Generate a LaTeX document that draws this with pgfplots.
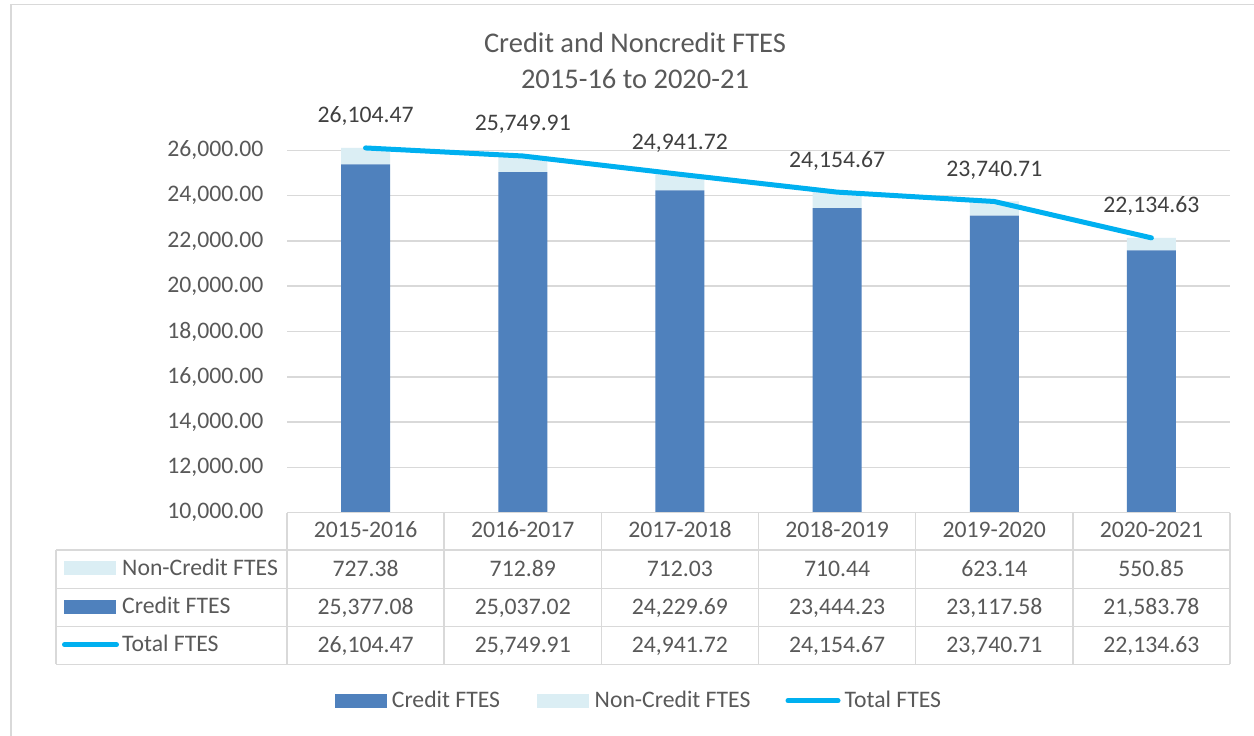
\documentclass[border=0pt]{standalone}
\usepackage{fontspec}
\setmainfont{Carlito}
\usepackage{pgfplots}
\pgfplotsset{compat=1.18}
\usepackage{pgfplotstable}
\definecolor{credit}{HTML}{4F81BD}
\definecolor{noncredit}{HTML}{DBEEF4}
\definecolor{total}{HTML}{00B0F0}
\definecolor{txt}{HTML}{595959}
\definecolor{lbl}{HTML}{404040}
\definecolor{gridc}{HTML}{D9D9D9}
\newcommand\fs{\fontsize{23.7}{28}\selectfont}
\newcommand\ft{\fontsize{28.5}{34}\selectfont}

\pgfplotstableread{
x credit noncredit total totallabel
0 25377.08 727.38 26104.47 26,104.47
1 25037.02 712.89 25749.91 25,749.91
2 24229.69 712.03 24941.72 24,941.72
3 23444.23 710.44 24154.67 24,154.67
4 23117.58 623.14 23740.71 23,740.71
5 21583.78 550.85 22134.63 22,134.63
}\data

\pgfplotsset{
  common/.style={
    at={(287pt,-512.7pt)}, anchor=south west, scale only axis,
    width=943pt, height=373.7pt,
    xmin=-0.5, xmax=5.5, ymin=10000, ymax=26500,
  }
}

\begin{document}
\begin{tikzpicture}
\useasboundingbox (0,0) rectangle (1254pt,-736pt);
\fill[white] (0,0) rectangle (1254pt,-736pt);
\draw[gridc, line width=1.5pt] (10.8pt,-736pt) -- (10.8pt,-4.3pt) -- (1254pt,-4.3pt);

% title
\node[font=\ft, text=txt, anchor=base] at (635pt,-52.5pt) {Credit and Noncredit FTES};
\node[font=\ft, text=txt, anchor=base] at (635pt,-88pt) {2015-16 to 2020-21};

\begin{axis}[common,
  ybar stacked, bar width=49pt,
  axis line style={draw=none},
  xtick=\empty, ytick={10000,12000,...,26000},
  scaled y ticks=false,
  ymajorgrids, grid style={gridc, line width=1.5pt},
  major tick length=0pt,
  /pgf/number format/fixed, /pgf/number format/fixed zerofill,
  /pgf/number format/precision=2, /pgf/number format/1000 sep={,},
  /pgf/number format/assume math mode=true,
  yticklabel style={font=\fs, text=txt, anchor=east, inner sep=0pt, xshift=-23.4pt},
]
\addplot[fill=credit, draw=none] table[x=x, y=credit]{\data};
\addplot[fill=noncredit, draw=none] table[x=x, y=noncredit]{\data};
\end{axis}

\begin{axis}[common, hide axis, clip=false]
\addplot[total, line width=5pt, line cap=round, line join=round,
  nodes near coords, point meta=explicit symbolic,
  nodes near coords style={font=\fs, text=lbl, anchor=base, yshift=25pt}]
  table[x=x, y=total, meta=totallabel]{\data};
\end{axis}

% data table grid
\begin{scope}[gridc, line width=1.5pt]
\draw (287pt,-512.7pt) -- (1230pt,-512.7pt);
\foreach \yy in {550,588.3,626.7,664.3} \draw (56pt,-\yy pt) -- (1230pt,-\yy pt);
\draw (56pt,-550pt) -- (56pt,-664.3pt);
\foreach \i in {0,...,6} \draw ({287pt+157.17pt*\i},-512.7pt) -- ({287pt+157.17pt*\i},-664.3pt);
\end{scope}

% header and values
\foreach \lab [count=\i from 0] in {2015-2016,2016-2017,2017-2018,2018-2019,2019-2020,2020-2021}
  \node[font=\fs, text=txt, anchor=base] at ({287pt+157.17pt*(\i+0.5)},-537.7pt) {\lab};
\foreach \lab [count=\i from 0] in {727.38,712.89,712.03,710.44,623.14,550.85}
  \node[font=\fs, text=txt, anchor=base] at ({287pt+157.17pt*(\i+0.5)},-576pt) {\lab};
\foreach \lab [count=\i from 0] in {{25,377.08},{25,037.02},{24,229.69},{23,444.23},{23,117.58},{21,583.78}}
  \node[font=\fs, text=txt, anchor=base] at ({287pt+157.17pt*(\i+0.5)},-614.3pt) {\lab};
\foreach \lab [count=\i from 0] in {{26,104.47},{25,749.91},{24,941.72},{24,154.67},{23,740.71},{22,134.63}}
  \node[font=\fs, text=txt, anchor=base] at ({287pt+157.17pt*(\i+0.5)},-652.7pt) {\lab};

% row labels with keys
\fill[noncredit] (64pt,-561.3pt) rectangle (116pt,-575pt);
\node[font=\fs, text=txt, anchor=base west, inner sep=0pt] at (122pt,-575pt) {Non-Credit FTES};
\fill[credit] (64pt,-600pt) rectangle (116pt,-614pt);
\node[font=\fs, text=txt, anchor=base west, inner sep=0pt] at (122pt,-613.3pt) {Credit FTES};
\draw[total, line width=5pt, line cap=round] (64.5pt,-644.7pt) -- (116.5pt,-644.7pt);
\node[font=\fs, text=txt, anchor=base west, inner sep=0pt] at (122pt,-651.7pt) {Total FTES};

% legend
\fill[credit] (335pt,-694pt) rectangle (386.7pt,-707.7pt);
\node[font=\fs, text=txt, anchor=base west, inner sep=0pt] at (391.7pt,-707.3pt) {Credit FTES};
\fill[noncredit] (537.3pt,-694pt) rectangle (588.7pt,-707.7pt);
\node[font=\fs, text=txt, anchor=base west, inner sep=0pt] at (594.5pt,-707.3pt) {Non-Credit FTES};
\draw[total, line width=5pt, line cap=round] (788pt,-700.8pt) -- (838pt,-700.8pt);
\node[font=\fs, text=txt, anchor=base west, inner sep=0pt] at (844.5pt,-707.3pt) {Total FTES};
\end{tikzpicture}
\end{document}
